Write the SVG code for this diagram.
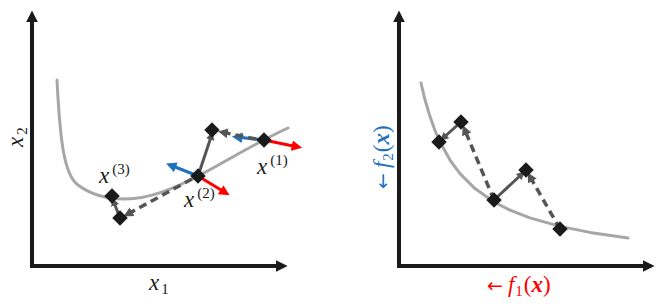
<svg xmlns="http://www.w3.org/2000/svg" width="664" height="306" viewBox="0 0 664 306">
<style>
.axis{stroke:#1a1a1a;stroke-width:4;fill:none}
.curve{stroke:#a6a6a6;stroke-width:3;fill:none;stroke-linejoin:round;stroke-linecap:round}
.step{stroke:#555;stroke-width:3;fill:none}
.dash{stroke:#555;stroke-width:3.5;fill:none;stroke-dasharray:8 5}
.blue{stroke:#1f72c0;stroke-width:3.2;fill:none}
.red{stroke:#ff0000;stroke-width:3.2;fill:none}
.pt{fill:#1a1a1a}
.m{font-family:"Liberation Serif","DejaVu Serif",serif;font-style:italic;font-size:23px;fill:#1a1a1a}
.s{font-style:normal;font-size:15px}
.ar{font-family:"DejaVu Sans",sans-serif;font-style:normal;font-size:19px}
</style>
<defs>
<marker id="ax" viewBox="0 0 10 10" refX="2" refY="5" markerWidth="3" markerHeight="3" orient="auto" markerUnits="strokeWidth"><path d="M0,0 L10,5 L0,10 z" fill="#1a1a1a"/></marker>
<marker id="ag" viewBox="0 0 10 10" refX="7" refY="5" markerWidth="2.8" markerHeight="2.8" orient="auto" markerUnits="strokeWidth"><path d="M0,0 L10,5 L0,10 z" fill="#555"/></marker>
<marker id="ab" viewBox="0 0 10 10" refX="6" refY="5" markerWidth="3.3" markerHeight="3.3" orient="auto" markerUnits="strokeWidth"><path d="M0,0 L10,5 L0,10 z" fill="#1f72c0"/></marker>
<marker id="ar" viewBox="0 0 10 10" refX="6" refY="5" markerWidth="3.3" markerHeight="3.3" orient="auto" markerUnits="strokeWidth"><path d="M0,0 L10,5 L0,10 z" fill="#ff0000"/></marker>
<rect id="dm" x="-5.5" y="-5.5" width="11" height="11" transform="rotate(45)"/>
</defs>

<g id="left-axes">
<line class="axis" x1="32" y1="266" x2="32" y2="20" marker-end="url(#ax)"/>
<line class="axis" x1="30" y1="266" x2="278" y2="266" marker-end="url(#ax)"/>
</g>
<g id="right-axes">
<line class="axis" x1="399" y1="266" x2="399" y2="20" marker-end="url(#ax)"/>
<line class="axis" x1="397" y1="266" x2="645" y2="266" marker-end="url(#ax)"/>
</g>

<g id="left-curve">
<path class="curve" d="M57,80 C60,140 64,175 78,185 C90,194 105,199 125,199 C150,199 175,188 200,175 C225,162 255,143 288,128"/>
</g>
<g id="right-curve">
<polyline class="curve" points="421,83 425,99.8 430,116.6 435,130.5 440,142 450,160.1 460,173.6 475,188.6 494,202 510,210.2 530,217.9 560,226.4 590,232.4 628,238"/>
</g>

<g id="connectors">
<line class="blue" x1="264" y1="140" x2="236" y2="137" marker-end="url(#ab)"/>
<line class="red" x1="264" y1="140" x2="298" y2="147" marker-end="url(#ar)"/>
<line class="dash" x1="256" y1="139" x2="221" y2="132" marker-end="url(#ag)"/>
<line class="step" x1="198" y1="176" x2="212" y2="134" marker-end="url(#ag)"/>
<line class="blue" x1="198" y1="176" x2="170" y2="165" marker-end="url(#ab)"/>
<line class="red" x1="198" y1="176" x2="226" y2="193" marker-end="url(#ar)"/>
<line class="dash" x1="192" y1="179" x2="126" y2="215" marker-end="url(#ag)"/>
<line class="step" x1="120" y1="218" x2="113" y2="200" marker-end="url(#ag)"/>

<line class="step" x1="461" y1="122" x2="442" y2="139" marker-end="url(#ag)"/>
<line class="dash" x1="494" y1="200" x2="464" y2="128" marker-end="url(#ag)"/>
<line class="step" x1="494" y1="200" x2="523" y2="173" marker-end="url(#ag)"/>
<line class="dash" x1="560" y1="229" x2="529" y2="175" marker-end="url(#ag)"/>
</g>

<g id="left-points" class="pt">
<use href="#dm" x="264" y="140"/>
<use href="#dm" x="212" y="130"/>
<use href="#dm" x="198" y="176"/>
<use href="#dm" x="120" y="218"/>
<use href="#dm" x="112" y="196"/>
</g>
<g id="right-points" class="pt">
<use href="#dm" x="439" y="142"/>
<use href="#dm" x="461" y="122"/>
<use href="#dm" x="494" y="200"/>
<use href="#dm" x="526" y="170"/>
<use href="#dm" x="560" y="229"/>
</g>

<g id="labels">
<text class="m" x="257" y="174">x<tspan class="s" dx="3" dy="-9">(1)</tspan></text>
<text class="m" x="184" y="207">x<tspan class="s" dx="3" dy="-9">(2)</tspan></text>
<text class="m" x="99" y="183">x<tspan class="s" dx="3" dy="-9">(3)</tspan></text>
<text class="m" x="149" y="290">x<tspan class="s" dx="2" dy="4">1</tspan></text>
<text class="m" transform="translate(23,147) rotate(-90)">x<tspan class="s" dx="2" dy="4">2</tspan></text>
<text class="m" x="487" y="292" style="fill:#ff0000"><tspan class="ar">←</tspan><tspan dx="5">f</tspan><tspan class="s" dx="1" dy="4">1</tspan><tspan style="font-style:normal" dx="1" dy="-4">(</tspan><tspan font-weight="bold">x</tspan><tspan style="font-style:normal">)</tspan></text>
<text class="m" transform="translate(389,189) rotate(-90)" style="fill:#1f72c0"><tspan class="ar">←</tspan><tspan dx="5">f</tspan><tspan class="s" dx="1" dy="4">2</tspan><tspan style="font-style:normal" dx="1" dy="-4">(</tspan><tspan font-weight="bold">x</tspan><tspan style="font-style:normal">)</tspan></text>
</g>
</svg>
